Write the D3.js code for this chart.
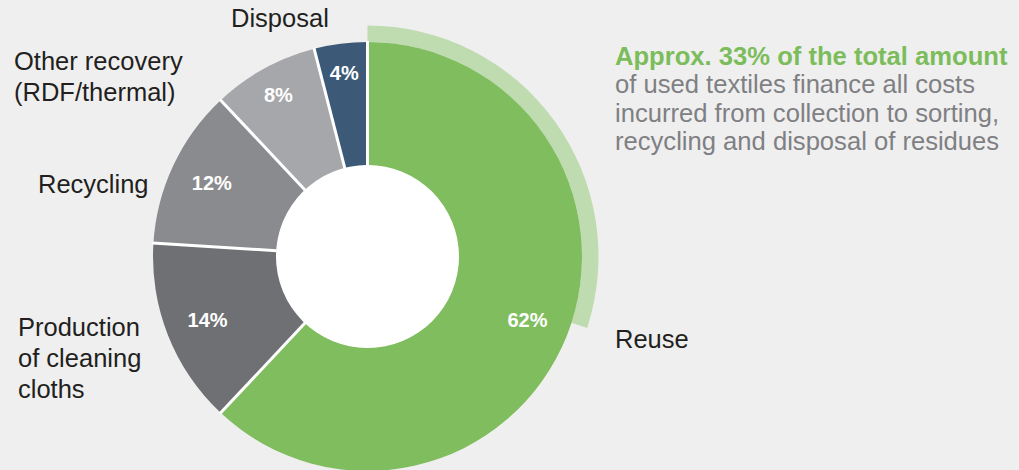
<!DOCTYPE html>
<html>
<head>
<meta charset="utf-8">
<script src="https://cdn.jsdelivr.net/npm/d3@7"></script>
<style>
  body { margin: 0; background: #efefef; }
  svg { display: block; font-family: "Liberation Sans", Arial, Helvetica, sans-serif; }
</style>
</head>
<body>
<div class="chart-area"></div>
<script>
const width = 1019
const height = 470

// data
const categories = ["Reuse", "Production of cleaning cloths", "Recycling", "Other recovery (RDF/thermal)", "Disposal"]
const shares = [62, 14, 12, 8, 4]
const labelLines = [["Reuse"], ["Production", "of cleaning", "cloths"], ["Recycling"], ["Other recovery", "(RDF/thermal)"], ["Disposal"]]
const fundedShare = 30   // light green arc, % of the circle as drawn
const noteTitle = "Approx. 33% of the total amount"
const noteLines = ["of used textiles finance all costs", "incurred from collection to sorting,", "recycling and disposal of residues"]

const colors = ["#80bd5f", "#6f7074", "#8a8b8e", "#a6a7aa", "#3c5a77"]

// where the outside labels sit (x, first baseline)
const labelPos = [[615, 348], [18, 336], [38, 193], [14, 70], [231, 27]]

const cx = 367.5, cy = 256.5
const rOuter = 214.5, rInner = 91

const svg = d3.select(".chart-area").append("svg")
    .attr("width", width)
    .attr("height", height)
    .attr("viewBox", [0, 0, width, height])

const g = svg.append("g").attr("transform", `translate(${cx},${cy})`)

const pie = d3.pie().sort(null).value(d => d)
const arcs = pie(shares)

const arc = d3.arc().innerRadius(rInner).outerRadius(rOuter)

// light green band showing the share that finances everything
const angleScale = d3.scaleLinear().domain([0, 100]).range([0, 2 * Math.PI])
g.append("path")
    .attr("d", d3.arc()({innerRadius: rOuter, outerRadius: 231, startAngle: 0, endAngle: angleScale(fundedShare)}))
    .attr("fill", "#bfdcb0")

g.selectAll("path.slice")
    .data(arcs)
    .enter()
    .append("path")
    .attr("class", "slice")
    .attr("d", arc)
    .attr("fill", (d, i) => colors[i])

// hole
g.append("circle").attr("r", rInner + 0.5).attr("fill", "#fff")

// white separators between slices
g.selectAll("line.sep")
    .data(arcs)
    .enter()
    .append("line")
    .attr("class", "sep")
    .attr("x1", d => Math.sin(d.startAngle) * rInner)
    .attr("y1", d => -Math.cos(d.startAngle) * rInner)
    .attr("x2", d => Math.sin(d.startAngle) * (rOuter + 1))
    .attr("y2", d => -Math.cos(d.startAngle) * (rOuter + 1))
    .attr("stroke", "#fff")
    .attr("stroke-width", 3)

// percentages inside
g.selectAll("text.pct")
    .data(arcs)
    .enter()
    .append("text")
    .attr("class", "pct")
    .attr("transform", d => {
        const r = d.data >= 10 ? 172 : 185
        const c = d3.arc().innerRadius(r).outerRadius(r).centroid(d)
        return `translate(${c[0]},${c[1]})`
    })
    .attr("text-anchor", "middle")
    .attr("dy", "0.36em")
    .attr("fill", "#fff")
    .attr("font-weight", "bold")
    .attr("font-size", 20)
    .text(d => d.data + "%")

// category labels
categories.forEach((c, i) => {
    const t = svg.append("text")
        .attr("x", labelPos[i][0])
        .attr("y", labelPos[i][1])
        .attr("fill", "#231f20")
        .attr("font-size", 25.5)
    labelLines[i].forEach((line, j) => {
        t.append("tspan")
            .attr("x", labelPos[i][0])
            .attr("dy", j == 0 ? 0 : 31)
            .text(line)
    })
})

// note on the right
const note = svg.append("text")
    .attr("x", 615)
    .attr("y", 65)
    .attr("font-size", 25.6)
note.append("tspan")
    .attr("x", 615)
    .attr("fill", "#7cbd5b")
    .attr("font-weight", "bold")
    .text(noteTitle)
noteLines.forEach(line => {
    note.append("tspan")
        .attr("x", 615)
        .attr("dy", 28.4)
        .attr("fill", "#7f8083")
        .text(line)
})
</script>
</body>
</html>
